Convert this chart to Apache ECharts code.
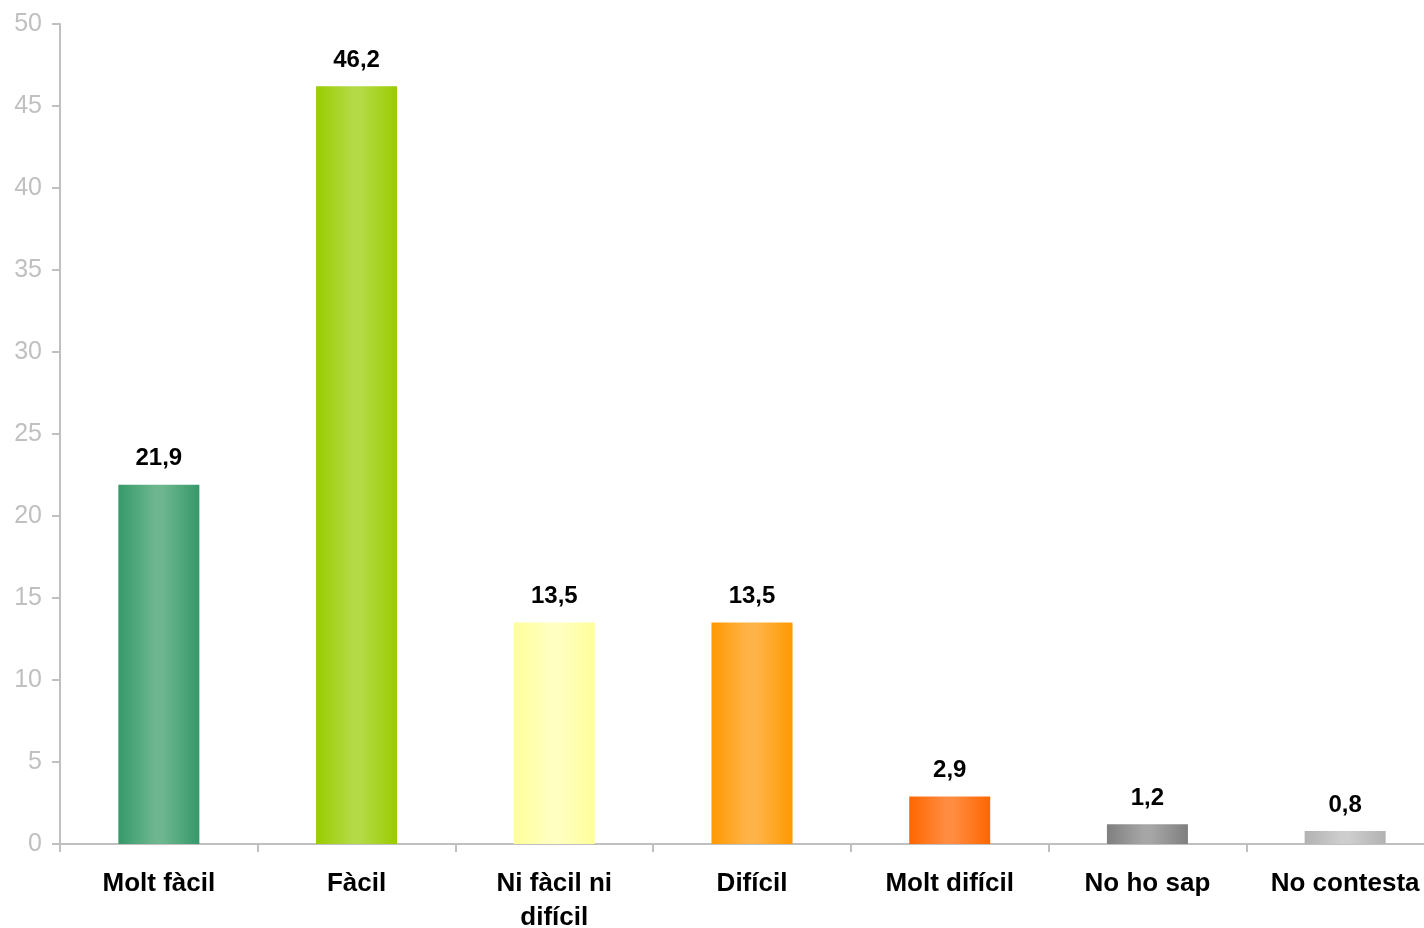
<!DOCTYPE html>
<html>
<head>
<meta charset="utf-8">
<script src="https://cdn.jsdelivr.net/npm/echarts@6/dist/echarts.min.js"></script>
<style>html,body{margin:0;padding:0;background:#fff}#c{width:1424px;height:928px}</style>
</head>
<body>
<div id="c"></div>
<script>
const categories = ['Molt fàcil', 'Fàcil', 'Ni fàcil ni\ndifícil', 'Difícil', 'Molt difícil', 'No ho sap', 'No contesta'];
const values = [21.9, 46.2, 13.5, 13.5, 2.9, 1.2, 0.8];
const edgeColors = ['#35996a', '#99cc00', '#ffff99', '#ff9900', '#ff6600', '#7f7f7f', '#b2b2b2'];
const midColors = ['#6db68f', '#b4da46', '#ffffc2', '#ffb449', '#ff8c40', '#a6a6a6', '#cdcdcd'];
const yTicks = { min: 0, max: 50, interval: 5 };

const chart = echarts.init(document.getElementById('c'), null, { renderer: 'canvas' });
const data = values.map((v, i) => ({
  value: v,
  itemStyle: {
    color: new echarts.graphic.LinearGradient(0, 0, 1, 0, [
      { offset: 0, color: edgeColors[i] },
      { offset: 0.45, color: midColors[i] },
      { offset: 0.55, color: midColors[i] },
      { offset: 1, color: edgeColors[i] }
    ])
  }
}));
chart.setOption({
  animation: false,
  grid: { left: 60, top: 24, height: 820, width: 1384, containLabel: false, outerBoundsMode: 'none' },
  xAxis: {
    type: 'category',
    data: categories,
    axisLine: { lineStyle: { color: '#c0c0c0', width: 2 } },
    axisTick: { show: true, length: 8, lineStyle: { color: '#c0c0c0', width: 2 } },
    axisLabel: {
      color: '#000', fontFamily: 'Liberation Sans, Arial, sans-serif', fontWeight: 'bold',
      fontSize: 26, margin: 23, lineHeight: 34, interval: 0
    }
  },
  yAxis: {
    type: 'value', min: yTicks.min, max: yTicks.max, interval: yTicks.interval,
    splitLine: { show: false },
    axisLine: { show: true, lineStyle: { color: '#c0c0c0', width: 2 } },
    axisTick: { show: true, length: 8, lineStyle: { color: '#c0c0c0', width: 2 } },
    axisLabel: { color: '#c0c0c0', fontFamily: 'Liberation Sans, Arial, sans-serif', fontSize: 25, margin: 18 }
  },
  series: [{
    type: 'bar',
    data: data,
    barWidth: 81,
    label: {
      show: true, position: 'top', distance: 14,
      color: '#000', fontFamily: 'Liberation Sans, Arial, sans-serif', fontWeight: 'bold', fontSize: 24,
      formatter: p => String(p.value).replace('.', ',')
    }
  }]
});
</script>
</body>
</html>
